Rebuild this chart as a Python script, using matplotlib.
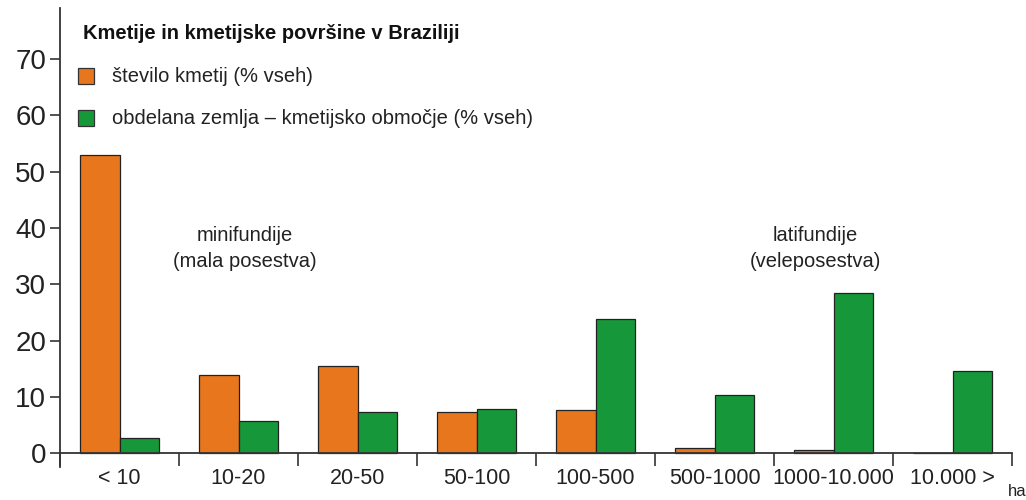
import matplotlib
matplotlib.use("Agg")
import matplotlib.pyplot as plt
from matplotlib.patches import Rectangle
import numpy as np

categories = ["< 10", "10-20", "20-50", "50-100", "100-500", "500-1000", "1000-10.000", "10.000 >"]
farms_pct = [53.0, 14.0, 15.6, 7.3, 7.7, 1.0, 0.7, 0.0]
land_pct = [2.8, 5.8, 7.4, 7.9, 23.9, 10.3, 28.5, 14.6]
yticks = [0, 10, 20, 30, 40, 50, 60, 70]

title = "Kmetije in kmetijske površine v Braziliji"
label_farms = "število kmetij (% vseh)"
label_land = "obdelana zemlja – kmetijsko območje (% vseh)"

ORANGE = "#E8761C"
GREEN = "#16983A"
AXC = "#333333"

sans = ['Liberation Sans', 'DejaVu Sans']
plt.rcParams['font.family'] = sans

fig = plt.figure(figsize=(10.26, 5.0), dpi=100)
ax = fig.add_axes([60/1026, 1-467/500, (1012-60)/1026, (467-8)/500])

x = np.arange(len(categories))
w = 0.33
ax.bar(x - w/2, farms_pct, width=w, color=ORANGE, edgecolor="#222222", linewidth=0.9)
ax.bar(x + w/2, land_pct, width=w, color=GREEN, edgecolor="#222222", linewidth=0.9)

ax.set_xlim(-0.5, len(categories) - 0.5)
ax.set_ylim(-2.4, 79)

for s in ["top", "right"]:
    ax.spines[s].set_visible(False)
ax.spines["bottom"].set_position(("data", 0))
for s in ["left", "bottom"]:
    ax.spines[s].set_color(AXC)
    ax.spines[s].set_linewidth(1.3)

ax.set_yticks(yticks)
ax.set_yticklabels([str(v) for v in yticks])
ax.tick_params(axis="y", direction="out", length=7, width=1.2, color=AXC, pad=3,
               labelsize=20, labelcolor="#222222")

ax.set_xticks(np.arange(len(categories) + 1) - 0.5)
ax.set_xticklabels([])
ax.tick_params(axis="x", which="major", direction="out", length=9.5, width=1.2, color=AXC)
ax.set_xticks(x, minor=True)
ax.set_xticklabels(categories, minor=True)
ax.tick_params(axis="x", which="minor", length=0, pad=10.5, labelsize=15.5, labelcolor="#222222")

fig.text(83/1026, 1-33/500, title, fontsize=14.5, fontweight="bold", va="center", ha="left",
         color="#111111")
# legend squares
for yy, col, lab in [(76, ORANGE, label_farms), (118, GREEN, label_land)]:
    fig.patches.append(Rectangle((78/1026, 1-(yy+8)/500), 16/1026, 16/500,
                                 transform=fig.transFigure, facecolor=col,
                                 edgecolor="#333333", linewidth=0.9))
    fig.text(112/1026, 1-yy/500, lab, fontsize=14.5, va="center", ha="left",
             color="#222222")

ax.text(1.05, 36.4, "minifundije\n(mala posestva)", fontsize=14.5, ha="center", va="center",
        color="#222222", linespacing=1.45)
ax.text(5.85, 36.4, "latifundije\n(veleposestva)", fontsize=14.5, ha="center", va="center",
        color="#222222", linespacing=1.45)
fig.text(1008/1026, 1-491/500, "ha", fontsize=12, ha="left", va="center",
         color="#222222")

fig.savefig("out.png", dpi=100)
